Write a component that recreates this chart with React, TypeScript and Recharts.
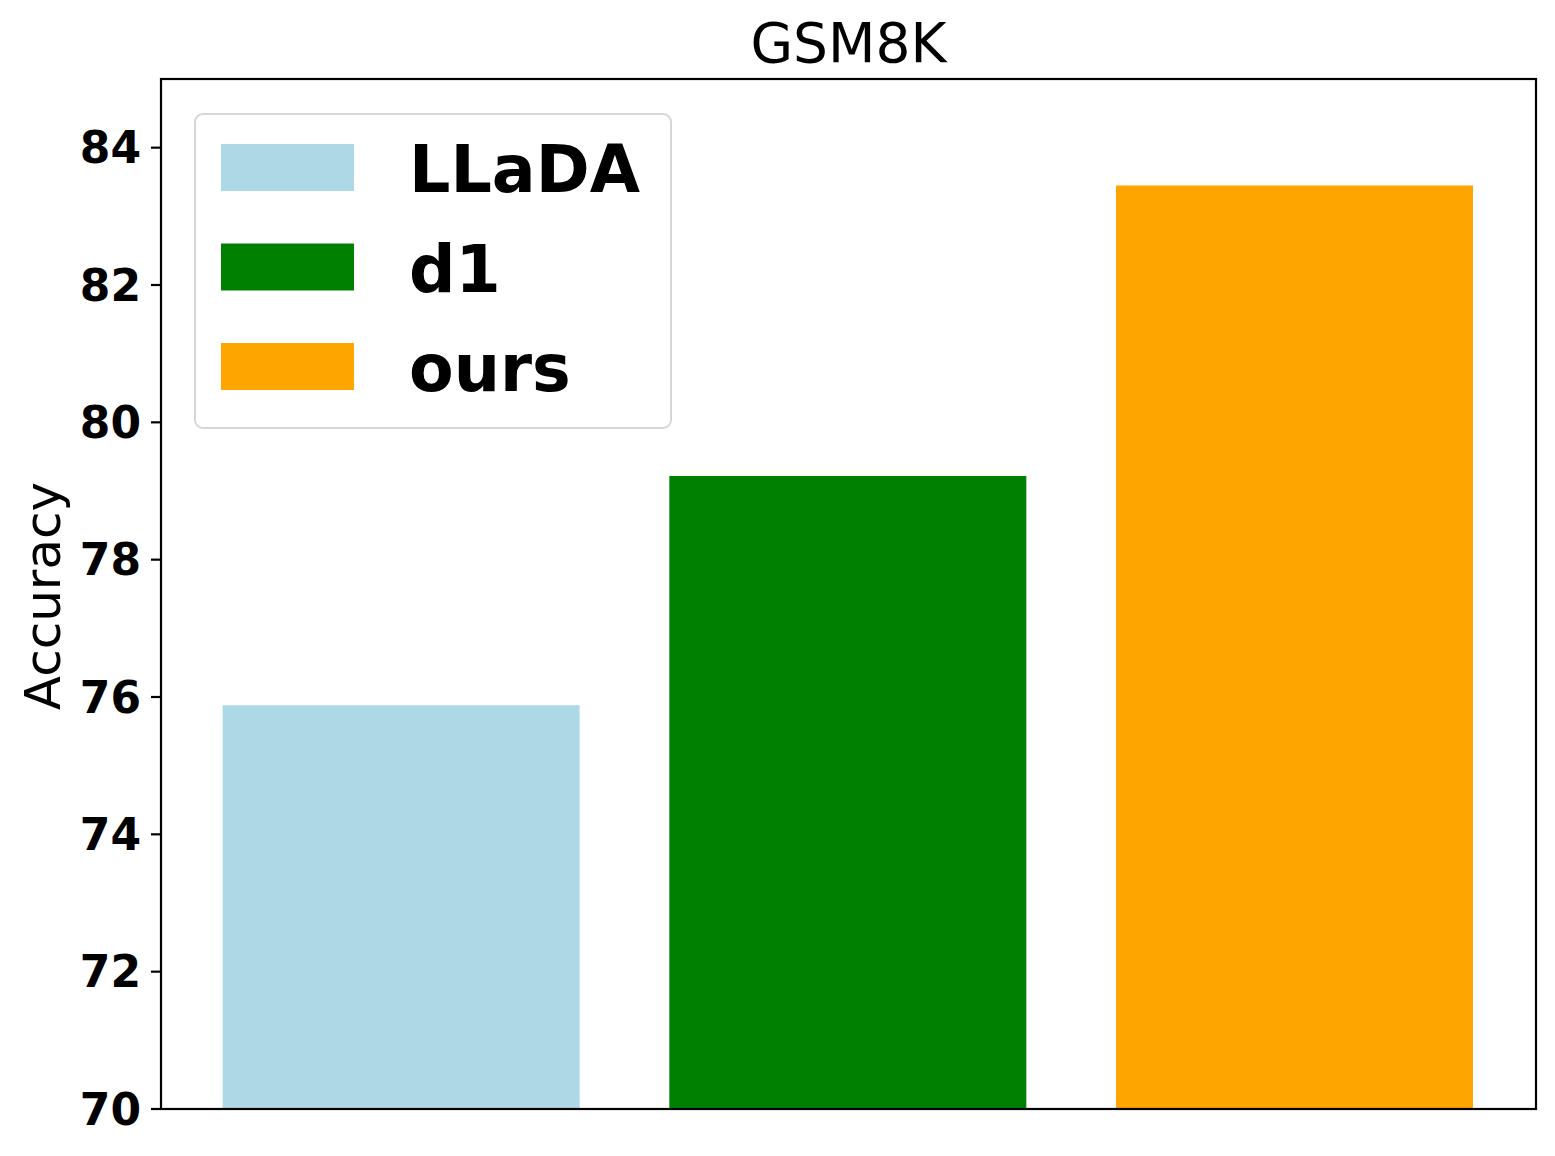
import { BarChart, Bar, XAxis, YAxis, Cell } from 'recharts'

const models = ['LLaDA', 'd1', 'ours']
const accuracy = [75.88, 79.22, 83.45]
const barColors = ['#add8e6', '#008000', '#ffa500']
const yTicks = [70, 72, 74, 76, 78, 80, 82, 84]

const data = models.map((name, i) => ({ name, value: accuracy[i] }))

const FONT = '"DejaVu Sans", sans-serif'
const AXIS_W = 2.2

// plot frame (matches chart margins below)
const PLOT = { left: 161, top: 79, right: 1536, bottom: 1109 }

function BoxLegend() {
  return (
    <div style={{
      position: 'absolute',
      left: 194,
      top: 113,
      width: 478,
      height: 316,
      boxSizing: 'border-box',
      border: '2px solid #d6d6d6',
      borderRadius: '9px',
      background: '#fff',
    }}>
      <svg width={474} height={312} style={{ position: 'absolute', left: 0, top: 0 }}>
        {models.map((name, i) => (
          <g key={name} transform={`translate(0, ${i * 99.5})`}>
            <rect x={25} y={29} width={133} height={47} fill={barColors[i]} />
            <text x={213} y={77} fontFamily={FONT} fontWeight="bold" fontSize={65} fill="#000">
              {name}
            </text>
          </g>
        ))}
      </svg>
    </div>
  )
}

export default function App() {
  return (
    <div style={{ position: 'absolute', left: 0, top: 0, width: 1555, height: 1156, background: '#fff' }}>
      <BarChart
        width={1555}
        height={1156}
        data={data}
        margin={{ top: PLOT.top, right: 1555 - PLOT.right, bottom: 1156 - PLOT.bottom, left: 0 }}
        barCategoryGap="10%"
      >
        <XAxis
          dataKey="name"
          tick={false}
          tickLine={false}
          axisLine={false}
          height={0}
          padding={{ left: 17, right: 18 }}
        />
        <YAxis
          domain={[70, 85]}
          ticks={yTicks}
          allowDataOverflow
          width={PLOT.left}
          tickSize={10}
          tickMargin={10}
          axisLine={false}
          tickLine={{ stroke: '#000', strokeWidth: AXIS_W }}
          tick={{ fill: '#000', fontSize: 44, fontWeight: 'bold', fontFamily: FONT }}
        />
        <Bar dataKey="value" isAnimationActive={false}>
          {data.map((d, i) => (
            <Cell key={d.name} fill={barColors[i]} />
          ))}
        </Bar>
      </BarChart>
      <svg width={1555} height={1156} style={{ position: 'absolute', left: 0, top: 0, pointerEvents: 'none' }}>
        <rect
          x={PLOT.left}
          y={PLOT.top}
          width={PLOT.right - PLOT.left}
          height={PLOT.bottom - PLOT.top}
          fill="none"
          stroke="#000"
          strokeWidth={AXIS_W}
        />
        <text x={848.5} y={62} textAnchor="middle" fontFamily={FONT} fontSize={55} fill="#000">
          GSM8K
        </text>
        <text
          x={0}
          y={0}
          transform="translate(60, 596) rotate(-90)"
          textAnchor="middle"
          fontFamily={FONT}
          fontSize={50}
          fill="#000"
        >
          Accuracy
        </text>
      </svg>
      <BoxLegend />
    </div>
  )
}
